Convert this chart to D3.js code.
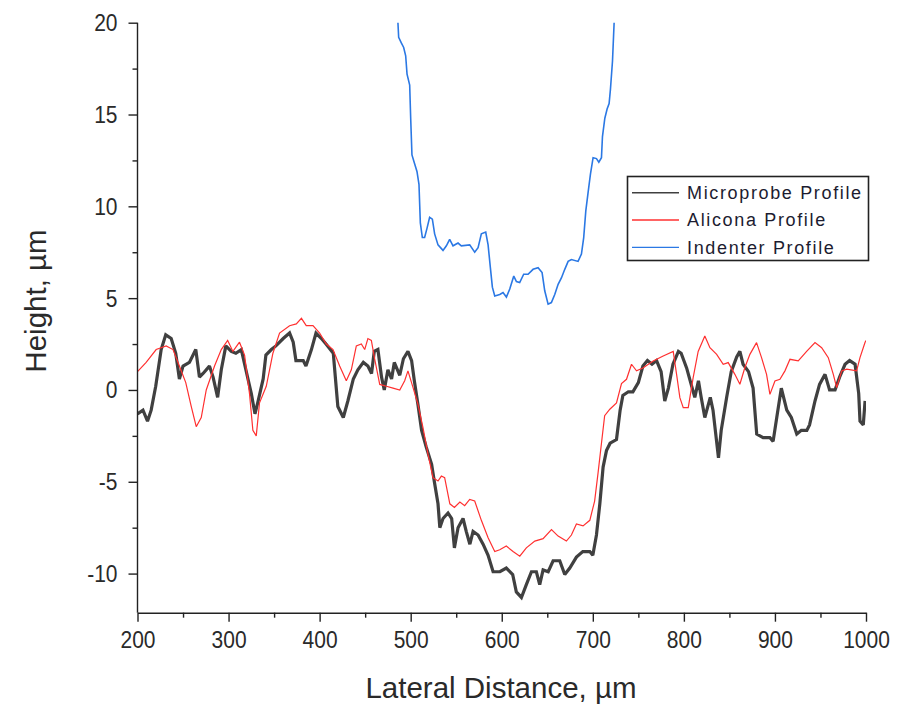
<!DOCTYPE html>
<html>
<head>
<meta charset="utf-8">
<script src="https://cdn.jsdelivr.net/npm/d3@7"></script>
<style>
  html, body { margin: 0; padding: 0; background: #ffffff; }
  svg { display: block; font-family: "Liberation Sans", Arial, sans-serif; }
</style>
</head>
<body>
<svg id="chart" width="917" height="704"></svg>
<script>
// ---------- data ----------
const microX = [200,206,211,215,220,226,231,237,242,246,250,257,264,268,272,279,283,288,292,297,303,308,314,319,325,329,332,338,341,347,352,360,367,371,374,382,385,391,396,402,407,415,420,426,431,437,442,448,453,457,460,464,468,471,475,479,482,488,492,497,501,504,508,512,517,523,526,530,532,535.5,541,545,548,552,557.5,561,565,568.5,574,579.5,585,590.5,598,605,612,616,621.6,627,632.6,638,641.7,645.4,651,656.4,663.7,669.2,674.7,682,689,696.7,700,704,707.7,711.3,715,719,726,730,733,739,744,750,755,760,765,770,775,779,783,788,794,797,803,808,812,816,819,823,829,832,838,841,847,852,858,861.5,865,871,876,880,887,894.5,898,902,907,913,918,924,929,935,938,944,949,955,960,966,971,977,982,988,992,993.4,997,999];
const microY = [-1.3,-1.1,-1.7,-1.1,0.2,2.2,3.0,2.8,2.0,0.6,1.3,1.5,2.2,0.7,0.9,1.3,0.7,-0.4,1.1,2.4,2.1,2.0,2.2,1.1,-0.2,-1.3,-0.7,0.6,1.9,2.2,2.4,2.8,3.1,2.6,1.6,1.6,1.3,2.2,3.1,2.8,2.5,2.0,-0.9,-1.5,-0.6,0.6,1.1,1.5,1.3,0.9,2.1,2.2,0.7,0.0,1.1,0.6,1.5,0.8,1.7,2.1,1.6,0.5,-0.8,-2.2,-3.1,-4.05,-5.0,-6.2,-7.5,-7.0,-6.7,-7.0,-8.6,-7.5,-7.0,-7.7,-8.4,-7.7,-7.9,-8.4,-9.0,-9.9,-9.9,-9.7,-10.05,-11.0,-11.3,-10.6,-9.9,-9.9,-10.6,-9.8,-9.9,-9.3,-9.3,-10.05,-9.7,-9.1,-8.8,-8.8,-9.0,-7.9,-6.2,-4.2,-3.3,-2.9,-2.7,-1.1,-0.3,-0.1,-0.1,0.4,1.3,1.6,1.4,1.6,1.0,-0.6,0.1,1.4,2.1,2.0,1.2,0.3,-0.4,0.5,-0.4,-1.5,-0.4,-1.1,-3.7,-2.2,-0.4,1.0,1.8,2.1,1.4,1.0,0.1,-2.4,-2.6,-2.6,-2.8,-1.5,0.1,-1.1,-1.5,-2.4,-2.2,-2.2,-1.9,-0.6,0.3,0.85,0.0,0.0,0.7,1.4,1.6,1.4,-0.2,-1.7,-1.9,-0.6];

const aliconaX = [200,209.5,220.5,231.5,239,246,253,259,264.5,270,275.5,284.6,292,299,304.8,312,317.6,323,326.7,330.4,334,341.4,348.7,356,367,374.4,380,385.3,392.7,400,407.3,414.7,422,429.3,434.8,440.3,445.8,449.5,453,456.8,460.4,466,473.3,480.6,488,493.4,497,502.6,508,513.5,519,524.5,530,533.7,537.3,543,548,554,559.3,564.8,570.3,577.6,585,592.3,597.8,605,612.4,619.8,627,636.3,645.4,654.6,661.9,671,676.5,682,689.3,696.7,702,705.8,709.5,713,718.7,726,731.5,737,742.5,748,755,761,766.3,777.3,788.3,792,795.6,799.3,804.8,810.2,815.7,823,828.6,836,843.2,848.7,856,861.5,867,872.5,879.8,885.3,890.8,894.5,900,905.5,911,916.5,925.6,934.8,944,951.3,958.6,964.1,967.8,973.3,978.8,989.7,993.4,998.9,1000];
const aliconaY = [1.0,1.5,2.2,2.4,2.2,1.3,0.4,-0.9,-2.0,-1.5,0.0,1.3,2.2,2.7,2.1,2.6,1.9,-0.2,-2.2,-2.5,-0.7,0.2,2.0,3.1,3.5,3.6,3.9,3.5,3.5,3.1,2.5,2.2,1.3,0.5,1.1,2.4,2.5,2.2,2.8,2.7,1.7,0.3,0.2,0.1,0.0,0.5,1.04,0.13,-0.78,-2.05,-3.5,-4.78,-4.96,-4.69,-4.78,-6.2,-6.4,-6.1,-6.3,-5.96,-6.05,-7.1,-8.05,-8.8,-8.7,-8.5,-8.8,-9.05,-8.6,-8.23,-8.1,-7.6,-7.96,-8.23,-7.9,-7.3,-7.4,-7.1,-6.05,-4.5,-2.9,-1.4,-1.05,-0.7,0.35,0.58,1.4,1.04,1.2,1.4,1.58,1.85,2.1,0.85,-0.42,-0.96,-0.96,0.67,2.1,2.94,2.3,1.94,1.4,1.49,0.85,0.31,1.22,1.94,2.58,1.76,0.85,-0.24,0.49,0.58,1.04,1.67,1.58,2.1,2.58,2.3,1.76,0.85,0.13,1.04,1.13,1.04,1.76,2.58,2.7];

const indenterX = [486,486.8,489.7,492.3,494.5,496,498.9,500,501.4,504.4,506.9,509.1,510.6,512.8,515.3,517.9,520.8,523.8,526.3,530,535.5,539.2,542.8,546.5,552,555.6,564.8,570.3,574,577.6,582.4,585,587.5,589.7,592.3,597.8,601.4,605.1,608.8,613.2,616.1,619.7,624.1,628.9,634.4,639.9,644.3,647.2,650.9,654.5,658.2,661.9,665.5,669.2,672.9,676.5,683.8,687.5,690,692.3,694.8,697.4,700.3,704,706.6,709.5,710.6,713.2,715.7,717.9,719.4,721.6,723.4];
const indenterY = [20.0,19.2,18.9,18.65,18.2,17.2,16.6,14.8,12.8,12.3,11.9,11.2,9.1,8.3,8.3,8.8,9.4,9.3,8.5,7.9,7.6,7.85,8.2,7.85,8.0,7.85,7.9,7.5,7.75,8.5,8.6,7.9,6.66,5.6,5.12,5.2,5.3,5.06,5.5,6.2,5.9,5.85,6.3,6.3,6.57,6.66,6.39,5.4,4.67,4.76,5.2,5.75,6.1,6.57,7.0,7.1,7.0,7.4,8.3,9.75,10.75,11.75,12.65,12.6,12.4,12.65,13.8,14.8,15.3,15.6,16.4,17.9,20.0];

const xTicks = [200,300,400,500,600,700,800,900,1000];
const xMinorTicks = [250,350,450,550,650,750,850,950];
const yTicks = [-10,-5,0,5,10,15,20];
const yMinorTicks = [-7.5,-2.5,2.5,7.5,12.5,17.5];
const seriesNames = ["Microprobe Profile","Alicona Profile","Indenter Profile"];
const seriesColors = ["#404040","#ff3030","#2b78e4"];
const xTitle = "Lateral Distance, \u00b5m";
const yTitle = "Height, \u00b5m";

// ---------- layout ----------
const svg = d3.select("#chart");
const pLeft = 137.5, pRight = 866, pTop = 22.7, pBottom = 612.7;

const x = d3.scaleLinear().domain([200, 1000]).range([pLeft, pRight]);
const y = d3.scaleLinear().domain([-12.13, 20]).range([pBottom, pTop]);

svg.append("defs").append("clipPath").attr("id", "plotclip")
  .append("rect").attr("x", pLeft).attr("y", pTop - 1).attr("width", pRight - pLeft).attr("height", pBottom - pTop + 1);

const plot = svg.append("g").attr("clip-path", "url(#plotclip)");

function drawSeries(xs, ys, color, width) {
  const pts = xs.map((v, i) => [v, ys[i]]);
  const line = d3.line().x(d => x(d[0])).y(d => y(d[1]));
  plot.append("path").datum(pts)
    .attr("d", line)
    .attr("fill", "none")
    .attr("stroke", color)
    .attr("stroke-width", width)
    .attr("stroke-linejoin", "miter")
    .attr("stroke-miterlimit", 2);
}
drawSeries(microX, microY, seriesColors[0], 3.2);
drawSeries(aliconaX, aliconaY, seriesColors[1], 1.2);
drawSeries(indenterX, indenterY, seriesColors[2], 1.6);

// ---------- axes ----------
const tickColor = "#222";
const labelColor = "#2a2a2a";

const xAxisG = svg.append("g").attr("transform", `translate(0,${pBottom})`)
  .call(d3.axisBottom(x).tickValues(xTicks).tickSize(9).tickSizeOuter(0).tickFormat(d3.format("d")));
xAxisG.append("g").call(d3.axisBottom(x).tickValues(xMinorTicks).tickSize(5).tickSizeOuter(0).tickFormat(""))
  .select(".domain").remove();
xAxisG.selectAll("path.domain").attr("stroke", tickColor).attr("stroke-width", 1.4);
xAxisG.selectAll(".tick line").attr("stroke", tickColor).attr("stroke-width", 1.4);
xAxisG.selectAll(".tick text")
  .attr("y", 0).attr("dy", 0)
  .attr("transform", "translate(0,35.5) scale(1,1.15)")
  .attr("fill", labelColor)
  .style("font-size", "21px")
  .style("font-family", "'Liberation Sans', Arial, sans-serif");

const yFmt = d => (d < 0 ? "-" : "") + Math.abs(d);
const yAxisG = svg.append("g").attr("transform", `translate(${pLeft},0)`)
  .call(d3.axisLeft(y).tickValues(yTicks).tickSize(9).tickSizeOuter(0).tickFormat(yFmt));
yAxisG.append("g").call(d3.axisLeft(y).tickValues(yMinorTicks).tickSize(5).tickSizeOuter(0).tickFormat(""))
  .select(".domain").remove();
yAxisG.select("path.domain").attr("d", `M0,${pBottom}V${pTop}`);
yAxisG.selectAll("path.domain").attr("stroke", tickColor).attr("stroke-width", 1.4);
yAxisG.selectAll(".tick line").attr("stroke", tickColor).attr("stroke-width", 1.4);
yAxisG.selectAll(".tick text")
  .attr("x", 0).attr("y", 0).attr("dy", 0)
  .attr("transform", "translate(-20,8) scale(1,1.15)")
  .attr("text-anchor", "end")
  .attr("fill", labelColor)
  .style("font-size", "21px")
  .style("font-family", "'Liberation Sans', Arial, sans-serif");

// ---------- titles ----------
svg.append("text")
  .attr("x", 501).attr("y", 698)
  .attr("text-anchor", "middle")
  .attr("fill", "#2a2a2a")
  .style("font-size", "29.5px")
  .text(xTitle);

svg.append("text")
  .attr("transform", "translate(46,301) rotate(-90)")
  .attr("text-anchor", "middle")
  .attr("fill", "#2a2a2a")
  .style("font-size", "29.5px")
  .text(yTitle);

// ---------- legend ----------
const lg = svg.append("g");
lg.append("rect")
  .attr("x", 627.5).attr("y", 176.5).attr("width", 241).attr("height", 84)
  .attr("fill", "#fff").attr("stroke", "#222").attr("stroke-width", 1.6);
const legendRowY = [192.7, 220, 247.3];
seriesNames.forEach((name, i) => {
  lg.append("line")
    .attr("x1", 632).attr("x2", 679)
    .attr("y1", legendRowY[i]).attr("y2", legendRowY[i])
    .attr("stroke", seriesColors[i]).attr("stroke-width", i === 0 ? 1.4 : 1.3);
  lg.append("text")
    .attr("x", 687).attr("y", legendRowY[i] + 6.3)
    .attr("fill", "#1c1c30")
    .style("font-size", "18px")
    .style("letter-spacing", "1.65px")
    .text(name);
});
</script>
</body>
</html>
